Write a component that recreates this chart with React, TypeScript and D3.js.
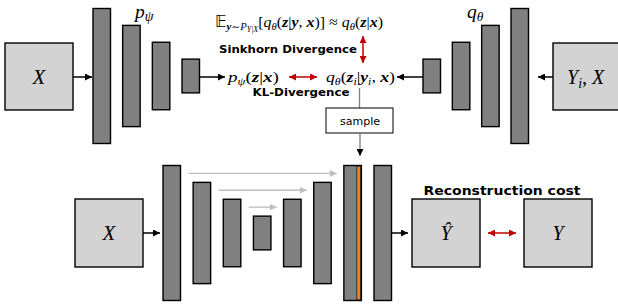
import React from 'react';
import { scaleLinear } from 'd3';

// layer sizes (relative units) for each network
const pEncoderUnits = [4, 3, 2, 1];
const qEncoderUnits = [1, 2, 3, 4];
const unetUnits = [4, 3, 2, 1, 2, 3, 4, 4];
// skip connections in the U-Net: [from layer, to layer]
const skipPairs = [
  [0, 6],
  [1, 5],
  [2, 4],
];
const injectedLayer = 6;

const labels = {
  sinkhorn: 'Sinkhorn Divergence',
  kl: 'KL-Divergence',
  sample: 'sample',
  recon: 'Reconstruction cost',
};

const W = 618;
const H = 308;
const BAR_W = 17.5;
const TOP_Y = 76;
const BOT_Y = 233;

const unitScale = scaleLinear().domain([0, 4]).range([0, 135]);
const pX = scaleLinear().domain([0, 3]).range([93, 182]);
const qX = scaleLinear().domain([0, 3]).range([423, 511]);
const uX = scaleLinear().domain([0, 7]).range([163, 374]);

const BAR_FILL = '#808080';
const BOX_FILL = '#d3d3d3';
const RED = '#c00000';
const SKIP = '#bfbfbf';
const ORANGE = '#ed7d31';

const serif = '"Liberation Serif", "DejaVu Serif", serif';
const sans = '"DejaVu Sans", Verdana, sans-serif';

const Bars = ({ units, xs, cy }: { units: number[]; xs: (i: number) => number; cy: number }) => (
  <g>
    {units.map((u, i) => {
      const h = unitScale(u);
      return (
        <rect key={i} x={xs(i)} y={cy - h / 2} width={BAR_W} height={h}
          fill={BAR_FILL} stroke="#000" strokeWidth={1.4} />
      );
    })}
  </g>
);

const Box = ({ x, y, w, h }: { x: number; y: number; w: number; h: number }) => (
  <rect x={x} y={y} width={w} height={h} fill={BOX_FILL} stroke="#000" strokeWidth={1.4} />
);

export default function App() {
  const m = { fontFamily: serif, fontStyle: 'italic' as const };
  const b = { fontWeight: 'bold' as const, fontStyle: 'italic' as const };
  return (
    <svg width={W} height={H} style={{ position: 'absolute', left: 0, top: 0, background: '#fff' }}>
      <defs>
        <marker id="ah" viewBox="0 0 10 10" refX="10" refY="5" markerWidth="7" markerHeight="7"
          markerUnits="userSpaceOnUse" orient="auto-start-reverse">
          <path d="M0,0 L10,5 L0,10 z" fill="#000" />
        </marker>
        <marker id="ar" viewBox="0 0 10 10" refX="10" refY="5" markerWidth="7" markerHeight="7"
          markerUnits="userSpaceOnUse" orient="auto-start-reverse">
          <path d="M0,0 L10,5 L0,10 z" fill={RED} />
        </marker>
        <marker id="ag" viewBox="0 0 10 10" refX="10" refY="5" markerWidth="7" markerHeight="7"
          markerUnits="userSpaceOnUse" orient="auto-start-reverse">
          <path d="M0,0 L10,5 L0,10 z" fill={SKIP} />
        </marker>
      </defs>

      {/* top row */}
      <Box x={5} y={43} w={68} h={67} />
      <text x={39} y={84} textAnchor="middle" fontSize={21} style={m}>X</text>
      <line x1={73} y1={TOP_Y + 1} x2={92} y2={TOP_Y + 1} stroke="#000" strokeWidth={1.5} markerEnd="url(#ah)" />
      <Bars units={pEncoderUnits} xs={pX} cy={TOP_Y} />
      <text x={135} y={17.5} fontSize={19.5} style={m}>p<tspan fontSize={14} dy={3}>ψ</tspan></text>
      <line x1={199} y1={TOP_Y + 1} x2={225} y2={TOP_Y + 1} stroke="#000" strokeWidth={1.5} markerEnd="url(#ah)" />

      <Bars units={qEncoderUnits} xs={qX} cy={TOP_Y} />
      <text x={467} y={17.5} fontSize={19.5} style={m}>q<tspan fontSize={13.5} dy={3}>θ</tspan></text>
      <Box x={553} y={43} w={70} h={67} />
      <text x={567} y={84} fontSize={20} style={m}>Y<tspan fontSize={14} dy={4}>i</tspan><tspan dy={-4}>, X</tspan></text>
      <line x1={553} y1={TOP_Y + 1} x2={538} y2={TOP_Y + 1} stroke="#000" strokeWidth={1.5} markerEnd="url(#ah)" />
      <line x1={423} y1={TOP_Y + 1} x2={397} y2={TOP_Y + 1} stroke="#000" strokeWidth={1.5} markerEnd="url(#ah)" />

      {/* formula */}
      <text x={215} y={27} fontSize={15} style={m} textLength={168} lengthAdjust="spacingAndGlyphs">
        <tspan fontStyle="normal" fontFamily={sans}>𝔼</tspan>
        <tspan fontSize={10} dy={3} style={b}>y</tspan>
        <tspan fontSize={10} fontStyle="normal">∼</tspan>
        <tspan fontSize={10}>P</tspan>
        <tspan fontSize={7.5} dy={2}>Y|X</tspan>
        <tspan dy={-5} fontStyle="normal">[</tspan>
        <tspan>q</tspan>
        <tspan fontSize={10} dy={3}>θ</tspan>
        <tspan dy={-3} fontStyle="normal">(</tspan>
        <tspan style={b}>z</tspan>
        <tspan fontStyle="normal">|</tspan>
        <tspan style={b}>y</tspan>
        <tspan fontStyle="normal">, </tspan>
        <tspan style={b}>x</tspan>
        <tspan fontStyle="normal">)] ≈ </tspan>
        <tspan>q</tspan>
        <tspan fontSize={10} dy={3}>θ</tspan>
        <tspan dy={-3} fontStyle="normal">(</tspan>
        <tspan style={b}>z</tspan>
        <tspan fontStyle="normal">|</tspan>
        <tspan style={b}>x</tspan>
        <tspan fontStyle="normal">)</tspan>
      </text>
      <text x={288} y={53} textAnchor="middle" fontFamily={sans} fontWeight="bold" fontSize={11}
        textLength={138} lengthAdjust="spacingAndGlyphs">{labels.sinkhorn}</text>
      <line x1={363} y1={36} x2={363} y2={63} stroke={RED} strokeWidth={1.5}
        markerStart="url(#ar)" markerEnd="url(#ar)" />

      <text x={228} y={82} fontSize={15} style={m} textLength={51} lengthAdjust="spacingAndGlyphs">
        <tspan>p</tspan>
        <tspan fontSize={10} dy={3}>ψ</tspan>
        <tspan dy={-3} fontStyle="normal">(</tspan>
        <tspan style={b}>z</tspan>
        <tspan fontStyle="normal">|</tspan>
        <tspan style={b}>x</tspan>
        <tspan fontStyle="normal">)</tspan>
      </text>
      <line x1={289} y1={TOP_Y + 1} x2={317} y2={TOP_Y + 1} stroke={RED} strokeWidth={1.5}
        markerStart="url(#ar)" markerEnd="url(#ar)" />
      <text x={326} y={82} fontSize={15} style={m} textLength={69} lengthAdjust="spacingAndGlyphs">
        <tspan>q</tspan>
        <tspan fontSize={10} dy={3}>θ</tspan>
        <tspan dy={-3} fontStyle="normal">(</tspan>
        <tspan style={b}>z</tspan>
        <tspan fontSize={10} dy={3}>i</tspan>
        <tspan dy={-3} fontStyle="normal">|</tspan>
        <tspan style={b}>y</tspan>
        <tspan fontSize={10} dy={3}>i</tspan>
        <tspan dy={-3} fontStyle="normal">, </tspan>
        <tspan style={b}>x</tspan>
        <tspan fontStyle="normal">)</tspan>
      </text>
      <text x={301} y={96} textAnchor="middle" fontFamily={sans} fontWeight="bold" fontSize={11}
        textLength={97} lengthAdjust="spacingAndGlyphs">{labels.kl}</text>

      {/* sampling */}
      <line x1={359.5} y1={88} x2={359.5} y2={108} stroke="#7f7f7f" strokeWidth={1.3} />
      <rect x={326} y={108} width={67} height={25} fill="#fff" stroke="#000" strokeWidth={1} />
      <text x={360} y={124.5} textAnchor="middle" fontFamily={sans} fontSize={11}>{labels.sample}</text>
      <line x1={360} y1={133} x2={360} y2={156} stroke="#7f7f7f" strokeWidth={1.3} markerEnd="url(#ah)" />

      {/* bottom row */}
      <Box x={75} y={199} w={68} h={68} />
      <text x={109} y={240} textAnchor="middle" fontSize={21} style={m}>X</text>
      <line x1={143} y1={BOT_Y} x2={160} y2={BOT_Y} stroke="#000" strokeWidth={1.5} markerEnd="url(#ah)" />
      {skipPairs.map(([a, c], k) => {
        const y = BOT_Y - unitScale(unetUnits[a + 1]) / 2 - 9;
        return (
          <line key={k} x1={uX(a) + BAR_W + 8} y1={y} x2={uX(c) - 7} y2={y}
            stroke={SKIP} strokeWidth={1.4} markerEnd="url(#ag)" />
        );
      })}
      <Bars units={unetUnits} xs={uX} cy={BOT_Y} />
      <rect x={uX(injectedLayer) + BAR_W - 4.5} y={BOT_Y - unitScale(unetUnits[injectedLayer]) / 2 + 0.7}
        width={3.8} height={unitScale(unetUnits[injectedLayer]) - 1.4} fill={ORANGE} stroke="#000" strokeWidth={0.6} />
      <line x1={uX(7) + BAR_W} y1={BOT_Y} x2={408} y2={BOT_Y} stroke="#000" strokeWidth={1.5} markerEnd="url(#ah)" />

      <text x={502} y={195} textAnchor="middle" fontFamily={sans} fontWeight="bold" fontSize={13}
        textLength={157} lengthAdjust="spacingAndGlyphs">{labels.recon}</text>
      <Box x={412} y={199} w={68} h={68} />
      <text x={446} y={240} textAnchor="middle" fontSize={20} style={m}>Ŷ</text>
      <line x1={488} y1={BOT_Y} x2={516} y2={BOT_Y} stroke={RED} strokeWidth={1.5}
        markerStart="url(#ar)" markerEnd="url(#ar)" />
      <Box x={524} y={199} w={68} h={68} />
      <text x={558} y={240} textAnchor="middle" fontSize={20} style={m}>Y</text>
    </svg>
  );
}
